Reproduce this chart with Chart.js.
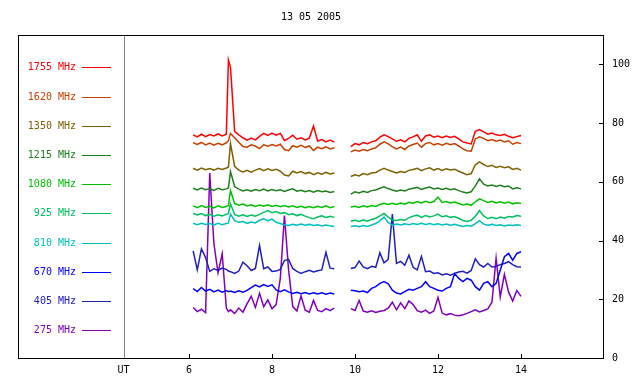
<!DOCTYPE html>
<html>
<head>
<meta charset="utf-8">
<script src="https://cdn.jsdelivr.net/npm/chart.js@4"></script>
<style>
  html, body { margin: 0; padding: 0; background: #fff; }
  #wrap { width: 640px; height: 384px; }
</style>
</head>
<body>
<div id="wrap"><canvas id="chart" width="640" height="384"></canvas></div>
<script>
const title = "13 05 2005";
const xTicks = [6, 8, 10, 12, 14];
const yTicks = [0, 20, 40, 60, 80, 100];
const legendLabels = ["1755 MHz", "1620 MHz", "1350 MHz", "1215 MHz", "1080 MHz", "925 MHz", "810 MHz", "670 MHz", "405 MHz", "275 MHz"];
const colors = ["#ff0000", "#c84000", "#806000", "#208020", "#00c000", "#00c060", "#00c0c0", "#0000ff", "#2020c0", "#8000c0"];

// UT hours, one null point at 9.7 marks the data gap
const times = [
  6.1, 6.2, 6.3, 6.4, 6.5, 6.6, 6.7, 6.8, 6.9, 6.95,
  7.0, 7.1, 7.2, 7.3, 7.4, 7.5, 7.6, 7.7, 7.8, 7.9,
  8.0, 8.1, 8.2, 8.3, 8.4, 8.5, 8.6, 8.7, 8.8, 8.9,
  9.0, 9.1, 9.2, 9.3, 9.4, 9.5,
  9.7,
  9.9, 10.0, 10.1, 10.2, 10.3, 10.4, 10.5, 10.6, 10.7, 10.8,
  10.9, 11.0, 11.1, 11.2, 11.3, 11.4, 11.5, 11.6, 11.7, 11.8,
  11.9, 12.0, 12.1, 12.2, 12.3, 12.4, 12.5, 12.6, 12.7, 12.8,
  12.9, 13.0, 13.1, 13.2, 13.3, 13.4, 13.5, 13.6, 13.7, 13.8,
  13.9, 14.0
];

const mhz1755 = [
  76.0, 75.3, 76.2, 75.4, 76.1, 75.6, 76.3, 75.6, 76.2, 101.5,
  99.0, 77.2, 76.0, 75.0, 74.2, 74.9, 74.3, 75.5, 76.5, 75.8,
  76.6, 75.9, 76.5, 74.1, 74.8, 75.9, 74.5, 75.0, 74.3, 74.9,
  79.0, 73.9, 74.4, 73.6, 74.2, 73.5,
  null,
  72.0, 73.0, 72.6, 73.4, 73.0, 73.6, 74.0, 75.2, 76.0, 75.4,
  74.6, 73.8, 74.3, 73.6, 74.8, 75.3, 76.0, 73.8, 75.6, 76.0,
  75.2, 75.6, 75.0, 75.6, 75.1, 75.5, 74.6, 73.6, 73.2, 72.9,
  77.2, 77.8, 77.0, 76.2, 76.6, 76.0, 75.8, 76.2, 75.5, 75.0,
  75.4, 75.8
];
const mhz1620 = [
  73.3, 72.7, 73.4, 72.6, 73.2, 72.5, 73.1, 72.6, 73.3, 74.0,
  76.5, 75.0, 73.5, 72.0, 71.8, 72.6, 72.2, 71.3, 72.6, 72.1,
  72.7, 72.2, 72.8, 71.0, 70.6, 72.3, 71.8, 72.4, 71.7, 72.2,
  70.7, 71.8, 71.3, 71.9, 71.2, 71.6,
  null,
  70.2, 70.8, 70.4, 71.0, 70.6, 71.2, 71.6, 72.8, 73.6, 72.9,
  72.0, 71.2, 71.8, 71.0, 72.2, 72.7, 73.2, 71.8, 73.0, 73.4,
  72.6, 73.0, 72.5, 73.1, 72.6, 73.0, 72.2, 71.2, 70.6, 70.4,
  74.6, 75.3, 74.8, 74.0, 74.4, 73.8, 74.2, 73.6, 74.0, 72.8,
  73.4, 73.0
];
const mhz1350 = [
  64.6, 64.0, 64.7, 64.1, 64.5, 64.0, 64.6, 64.2, 64.7, 65.0,
  73.0, 65.3, 64.0, 63.4, 63.9, 63.3, 64.0, 64.5, 63.8, 64.4,
  63.9, 64.3, 63.6, 62.3, 62.0, 63.6, 63.0, 63.5, 62.8, 63.2,
  62.4, 63.1, 62.6, 63.2, 62.7, 63.0,
  null,
  61.8, 62.4, 62.0, 62.8, 62.4, 63.0, 63.2, 64.0, 64.6, 64.0,
  63.5, 63.0, 63.5, 63.2, 63.9, 64.2, 64.6, 63.8, 64.4, 64.8,
  64.0, 64.5, 63.9, 64.4, 64.0, 64.3, 63.6, 63.0, 62.4, 62.8,
  65.8, 66.8, 65.9, 65.2, 65.6, 64.9, 65.3, 64.8, 65.1, 64.2,
  64.6, 64.0
];
const mhz1215 = [
  57.8, 57.2, 57.9, 57.3, 57.7, 57.1, 57.8, 57.3, 57.6, 57.9,
  63.5, 58.4, 57.5, 56.9, 57.3, 56.8, 57.4, 57.0, 57.5, 56.9,
  57.4, 57.0, 57.3, 56.7, 57.2, 57.6, 56.8, 57.1, 56.6, 57.0,
  56.5, 57.0, 56.6, 56.9, 56.4, 56.7,
  null,
  55.8, 56.6, 56.2, 56.8, 56.4, 57.0, 57.2, 57.8, 58.3, 57.7,
  57.2, 56.8, 57.2, 56.9, 57.5, 57.8, 58.1, 57.4, 57.9, 58.2,
  57.6, 57.9, 57.4, 57.8, 57.3, 57.6, 57.0, 56.5, 56.2, 56.6,
  58.6, 61.0, 59.2, 58.6, 58.9, 58.4, 58.8, 58.3, 58.6, 57.6,
  58.0, 57.6
];
const mhz1080 = [
  51.8, 51.2, 51.9, 51.3, 51.7, 51.1, 51.8, 51.3, 51.6, 52.0,
  57.0, 52.6, 52.0, 52.4, 51.8, 52.2, 51.6, 52.1, 51.7, 52.2,
  51.6, 52.0, 51.5, 51.9, 51.4, 51.8, 51.3, 51.7, 51.2, 51.6,
  51.2, 51.7, 51.3, 51.8, 51.2, 51.6,
  null,
  51.4, 51.7, 51.3, 51.8, 51.4, 51.9, 51.6, 52.3, 52.7, 52.3,
  52.7, 52.3, 52.8, 52.4, 53.0, 52.7, 53.3, 52.8, 53.4, 52.9,
  53.3, 54.8, 53.0, 53.3, 52.8, 53.1, 52.6, 52.1, 52.4, 52.0,
  53.2, 54.2, 53.6, 53.0, 53.4, 52.8, 53.2, 52.7, 53.1, 52.5,
  52.9, 52.6
];
const mhz925 = [
  49.3, 48.7, 49.2, 48.5, 48.9, 48.3, 48.8, 48.4, 48.9, 49.2,
  52.5, 48.9, 48.3, 48.8, 48.2, 48.7, 48.3, 48.9, 49.6, 50.2,
  49.5, 49.9, 49.2, 49.5, 48.8, 49.1, 48.5, 48.9, 48.3, 47.8,
  47.4, 48.0, 48.4, 47.9, 48.3, 47.9,
  null,
  46.6, 46.9, 46.5, 47.0, 46.6, 47.2, 47.6, 48.4, 49.2, 48.0,
  47.0, 46.8, 47.2, 46.9, 47.8, 48.3, 48.7, 47.9, 48.5, 48.0,
  48.4, 49.0, 48.1, 48.4, 47.9, 48.2, 47.6, 46.8, 46.5, 46.9,
  48.3, 50.2, 48.4, 47.5, 47.9, 47.4, 48.0, 47.6, 48.2, 48.0,
  48.5, 48.3
];
const mhz810 = [
  45.9, 45.4, 45.9, 45.5, 45.8, 45.3, 45.9, 45.4, 45.8, 46.0,
  49.0, 46.8, 46.2, 46.5, 45.8, 46.3, 46.0, 46.9, 47.4, 46.8,
  47.3, 46.2, 45.8, 45.3, 45.1, 45.5, 45.2, 45.6, 45.2, 45.5,
  45.1, 45.4, 45.0, 45.3, 45.0, 44.8,
  null,
  44.8, 45.0, 44.7, 45.1, 44.8, 45.3, 45.8, 46.8, 48.0, 46.2,
  45.2, 45.6, 45.3, 45.7, 45.4, 45.8, 45.5, 45.9, 45.5, 45.8,
  45.4, 45.7, 45.3, 45.6, 45.2, 45.5, 45.1, 44.8, 45.1, 44.9,
  45.8, 46.8, 45.6, 45.2, 45.5, 45.1, 45.4, 45.0, 45.3, 45.1,
  45.4, 45.1
];
const mhz670 = [
  23.6, 22.6, 24.0, 22.8, 23.4, 22.5, 23.1, 22.4, 23.0, 22.6,
  22.8, 22.3, 22.9, 22.4, 23.0, 24.0, 24.8, 24.2, 25.0, 24.4,
  24.9, 23.2, 22.6, 23.2, 22.5, 22.0, 22.4, 21.9, 22.3, 21.8,
  22.2, 21.8, 22.2, 21.7, 22.1, 21.8,
  null,
  23.1, 22.9, 22.6, 22.8, 22.3, 23.7, 24.3, 25.4, 26.0, 25.3,
  23.1, 22.1, 21.8, 22.6, 23.4, 23.1, 23.7, 24.3, 26.0, 24.3,
  23.7, 23.1, 22.8, 23.7, 24.3, 28.8, 27.1, 26.0, 27.1, 26.5,
  24.3, 23.1, 25.4, 26.0, 24.3, 25.4, 29.9, 34.5, 35.6, 33.3,
  35.6, 36.2
];
const mhz405 = [
  36.5, 30.0, 37.2, 34.2, 29.5, 30.4, 29.8, 30.6, 30.2, 29.6,
  29.4, 28.8, 29.6, 32.6, 31.4, 29.8, 30.5, 38.3, 30.4, 31.0,
  29.5, 29.6, 30.2, 33.2, 33.6, 30.5, 29.5, 28.8, 29.4, 29.9,
  29.3, 29.7, 30.0, 36.0, 30.6, 30.4,
  null,
  30.5, 30.8, 33.0, 31.0, 30.4, 31.2, 30.9, 35.8, 32.4, 33.6,
  49.0, 32.2, 32.9, 31.6, 35.0, 30.9, 30.0, 34.6, 29.4, 29.6,
  28.8, 29.0, 28.3, 28.7, 28.2, 28.8, 29.3, 29.5, 28.9, 29.8,
  33.8, 31.8, 31.0, 32.2, 31.0, 31.2, 31.8, 32.2, 32.8, 31.8,
  31.1, 31.0
];
const mhz275 = [
  17.2, 15.8, 16.6, 15.4, 63.0, 39.0, 29.0, 35.5, 17.0, 15.8,
  16.4, 15.2, 17.0, 15.6, 18.5, 21.0, 17.2, 22.0, 17.5, 19.8,
  16.8, 18.2, 27.0, 48.5, 30.0, 17.5, 16.0, 21.2, 16.3, 15.6,
  19.6, 16.2, 15.8, 16.8, 16.1, 17.0,
  null,
  16.8, 16.2, 19.6, 16.0, 15.6, 16.1, 15.5, 15.9, 16.2, 17.0,
  19.0, 16.4, 18.8, 16.8, 19.4, 18.2, 16.1, 15.6, 16.3, 15.2,
  16.0, 20.6, 15.3, 14.7, 15.1, 14.6, 14.4, 14.7, 15.2, 15.8,
  16.4, 15.7, 16.2, 16.7, 19.0, 34.0, 20.8, 28.5, 22.5, 19.4,
  23.0, 21.0
];

const seriesValues = [mhz1755, mhz1620, mhz1350, mhz1215, mhz1080, mhz925, mhz810, mhz670, mhz405, mhz275];

const FONT = '10px "DejaVu Sans Mono", "Liberation Mono", monospace';
const utAxisAt = 4.43;

const framePlugin = {
  id: "frame",
  afterDraw(chart) {
    const { ctx, chartArea: a, scales } = chart;
    const x = scales.x;
    const y = scales.y;
    ctx.save();
    ctx.font = FONT;
    ctx.fillStyle = "#000";
    ctx.textAlign = "center";
    ctx.textBaseline = "middle";
    ctx.fillText(title, (a.left + a.right) / 2, 17);

    ctx.lineWidth = 1;
    ctx.strokeStyle = "#000";
    ctx.strokeRect(a.left + 0.5, a.top + 0.5, a.right - a.left - 1, a.bottom - a.top);

    // tick marks point into the plot
    ctx.beginPath();
    xTicks.forEach(v => {
      const px = Math.round(x.getPixelForValue(v)) + 0.5;
      ctx.moveTo(px, a.bottom);
      ctx.lineTo(px, a.bottom - 4);
    });
    yTicks.forEach(v => {
      const py = Math.round(y.getPixelForValue(v)) + 0.5;
      ctx.moveTo(a.right - 1, py);
      ctx.lineTo(a.right - 5, py);
    });
    ctx.stroke();

    const ux = Math.round(x.getPixelForValue(utAxisAt)) + 0.5;
    ctx.strokeStyle = "#808080";
    ctx.beginPath();
    ctx.moveTo(ux, a.top + 1);
    ctx.lineTo(ux, a.bottom);
    ctx.stroke();
    ctx.fillText("UT", ux - 1, 370);

    legendLabels.forEach((label, i) => {
      const ly = Math.round(67.3 + i * 29.2) + 0.5;
      ctx.fillStyle = colors[i];
      ctx.strokeStyle = colors[i];
      ctx.textAlign = "right";
      ctx.fillText(label, 76, ly);
      ctx.beginPath();
      ctx.moveTo(82, ly);
      ctx.lineTo(111, ly);
      ctx.stroke();
    });
    ctx.restore();
  }
};

const datasets = seriesValues.map((vals, i) => ({
  label: legendLabels[i],
  data: times.map((t, j) => ({ x: t, y: vals[j] })),
  borderColor: colors[i],
  borderWidth: 1.5,
  pointRadius: 0,
  tension: 0,
  spanGaps: false,
  fill: false
}));

new Chart(document.getElementById("chart"), {
  type: "line",
  data: { datasets },
  options: {
    responsive: false,
    animation: false,
    events: [],
    layout: { padding: { left: 18, top: 35, right: 0, bottom: 0 } },
    plugins: {
      legend: { display: false },
      title: { display: false },
      tooltip: { enabled: false }
    },
    scales: {
      x: {
        type: "linear",
        min: 1.88,
        max: 16.0,
        grid: { display: false, drawTicks: false },
        border: { display: false },
        afterBuildTicks: scale => { scale.ticks = xTicks.map(v => ({ value: v })); },
        afterFit: scale => { scale.height = 26; },
        ticks: { color: "#000", font: { family: '"DejaVu Sans Mono"', size: 10 }, padding: 6, maxRotation: 0, autoSkip: false }
      },
      y: {
        position: "right",
        min: 0,
        max: 110,
        grid: { display: false, drawTicks: false },
        border: { display: false },
        afterBuildTicks: scale => { scale.ticks = yTicks.map(v => ({ value: v })); },
        afterFit: scale => { scale.width = 36; },
        ticks: { color: "#000", font: { family: '"DejaVu Sans Mono"', size: 10 }, padding: 8 }
      }
    }
  },
  plugins: [framePlugin]
});
</script>
</body>
</html>
